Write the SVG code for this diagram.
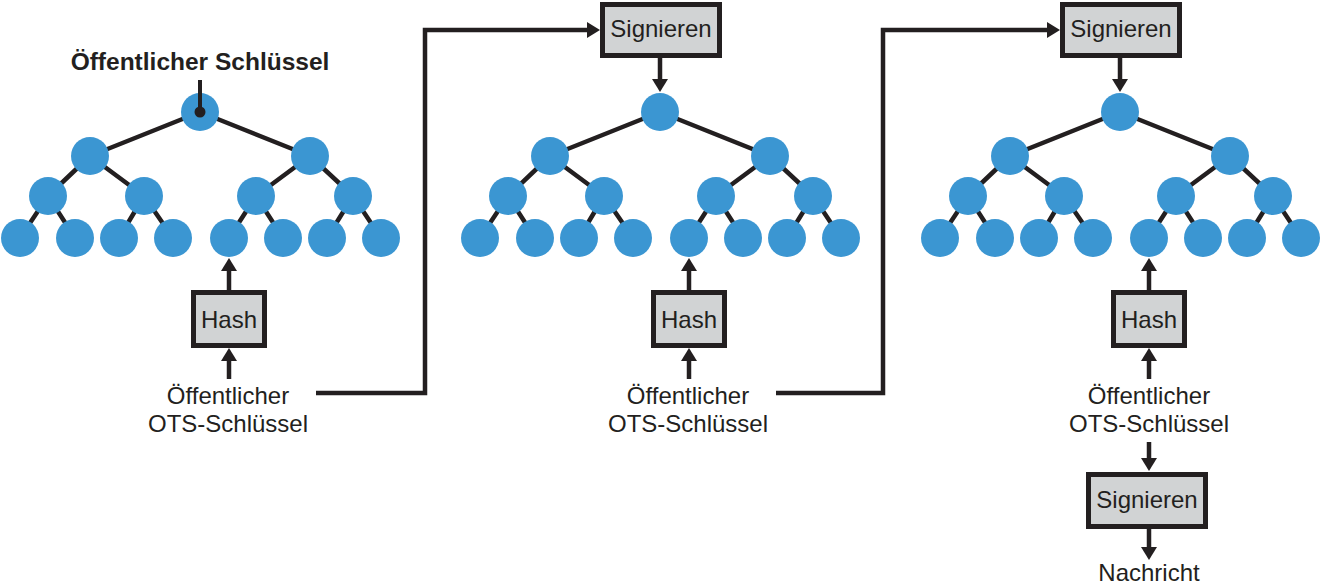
<svg xmlns="http://www.w3.org/2000/svg" width="1323" height="587" viewBox="0 0 1323 587">
<defs>
<style>
.edge{stroke:#231f20;stroke-width:4.5;fill:none}
.node{fill:#3b96d2}
.box{fill:#d1d3d4;stroke:#231f20;stroke-width:5}
.conn{stroke:#231f20;stroke-width:4.5;fill:none;stroke-linejoin:miter}
.t{font-family:"Liberation Sans",Arial,sans-serif;font-size:24px;fill:#231f20;text-anchor:middle}
.tb{font-family:"Liberation Sans",Arial,sans-serif;font-size:24.5px;font-weight:bold;fill:#231f20;text-anchor:middle}
</style>
<marker id="ah" viewBox="0 0 13 16" refX="3" refY="8" markerWidth="13" markerHeight="16" markerUnits="userSpaceOnUse" orient="auto">
<path d="M0 0 L13 8 L0 16 Z" fill="#231f20"/>
</marker>
<g id="tree">
<path class="edge" d="M200 112 L90 156 M200 112 L310 156 M90 156 L48 196 M90 156 L144 196 M310 156 L256 196 M310 156 L353 196 M48 196 L20 238 M48 196 L75 238 M144 196 L119 238 M144 196 L173 238 M256 196 L229 238 M256 196 L283 238 M353 196 L327 238 M353 196 L381 238"/>
<circle class="node" cx="200" cy="112" r="19"/>
<circle class="node" cx="90" cy="156" r="19"/>
<circle class="node" cx="310" cy="156" r="19"/>
<circle class="node" cx="48" cy="196" r="19"/>
<circle class="node" cx="144" cy="196" r="19"/>
<circle class="node" cx="256" cy="196" r="19"/>
<circle class="node" cx="353" cy="196" r="19"/>
<circle class="node" cx="20" cy="238" r="19"/>
<circle class="node" cx="75" cy="238" r="19"/>
<circle class="node" cx="119" cy="238" r="19"/>
<circle class="node" cx="173" cy="238" r="19"/>
<circle class="node" cx="229" cy="238" r="19"/>
<circle class="node" cx="283" cy="238" r="19"/>
<circle class="node" cx="327" cy="238" r="19"/>
<circle class="node" cx="381" cy="238" r="19"/>
</g>
</defs>

<g id="tree1"><use href="#tree"/></g>
<g id="tree2"><use href="#tree" x="460"/></g>
<g id="tree3"><use href="#tree" x="920"/></g>

<g id="pubkey-label">
<text class="tb" x="200" y="70">Öffentlicher Schlüssel</text>
<path d="M200 80 V112" stroke="#231f20" stroke-width="4"/>
<circle cx="200" cy="112" r="5.5" fill="#231f20"/>
</g>

<g id="hash1"><rect class="box" x="193.5" y="292.5" width="71" height="53"/><text class="t" x="229" y="328">Hash</text></g>
<g id="hash2"><rect class="box" x="653.5" y="292.5" width="71" height="53"/><text class="t" x="689" y="328">Hash</text></g>
<g id="hash3"><rect class="box" x="1113.5" y="292.5" width="71" height="53"/><text class="t" x="1149" y="328">Hash</text></g>

<g id="ots1"><text class="t" x="228" y="404">Öffentlicher</text><text class="t" x="228" y="432">OTS-Schlüssel</text></g>
<g id="ots2"><text class="t" x="688" y="404">Öffentlicher</text><text class="t" x="688" y="432">OTS-Schlüssel</text></g>
<g id="ots3"><text class="t" x="1149" y="404">Öffentlicher</text><text class="t" x="1149" y="432">OTS-Schlüssel</text></g>

<g id="sign1"><rect class="box" x="602.5" y="4.5" width="117" height="51"/><text class="t" x="661" y="37">Signieren</text></g>
<g id="sign2"><rect class="box" x="1062.5" y="4.5" width="117" height="51"/><text class="t" x="1121" y="37">Signieren</text></g>
<g id="sign3"><rect class="box" x="1088.5" y="474.5" width="117" height="52"/><text class="t" x="1147" y="508">Signieren</text></g>

<g id="msg"><text class="t" x="1149" y="581">Nachricht</text></g>

<g id="connectors">
<path class="conn" marker-end="url(#ah)" d="M229 290 V268"/>
<path class="conn" marker-end="url(#ah)" d="M229 379 V358"/>
<path class="conn" marker-end="url(#ah)" d="M316 393 H425 V30 H590"/>
<path class="conn" marker-end="url(#ah)" d="M660 58 V82"/>
<path class="conn" marker-end="url(#ah)" d="M689 290 V268"/>
<path class="conn" marker-end="url(#ah)" d="M689 379 V358"/>
<path class="conn" marker-end="url(#ah)" d="M776 393 H883 V30 H1050"/>
<path class="conn" marker-end="url(#ah)" d="M1120 58 V82"/>
<path class="conn" marker-end="url(#ah)" d="M1149 290 V268"/>
<path class="conn" marker-end="url(#ah)" d="M1149 379 V358"/>
<path class="conn" marker-end="url(#ah)" d="M1149 442 V461"/>
<path class="conn" marker-end="url(#ah)" d="M1149 529 V550"/>
</g>
</svg>
